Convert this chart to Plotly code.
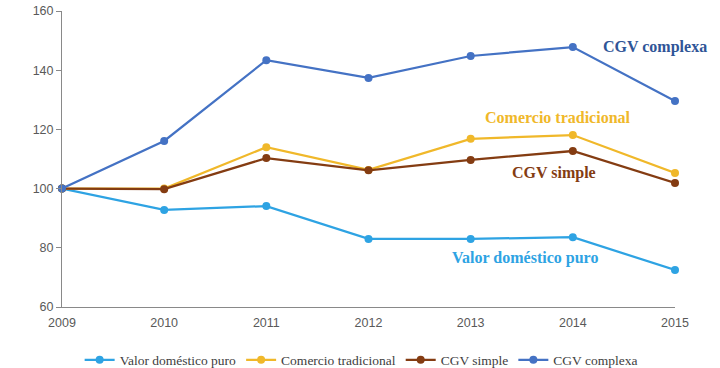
import plotly.graph_objects as go

years = [2009, 2010, 2011, 2012, 2013, 2014, 2015]
valor_domestico = [100, 92.8, 94.1, 83.0, 83.0, 83.6, 72.5]
comercio_trad = [100, 100.0, 114.0, 106.3, 116.8, 118.1, 105.3]
cgv_simple = [100, 99.8, 110.3, 106.2, 109.7, 112.7, 101.9]
cgv_complexa = [100, 116.1, 143.4, 137.4, 144.8, 147.8, 129.6]

series = [
    ("Valor doméstico puro", valor_domestico, "#2EA3E3"),
    ("Comercio tradicional", comercio_trad, "#F0B82A"),
    ("CGV simple", cgv_simple, "#843C12"),
    ("CGV complexa", cgv_complexa, "#4472C4"),
]

fig = go.Figure()
for name, vals, col in series:
    fig.add_trace(go.Scatter(
        x=years, y=vals, name=name, mode="lines+markers",
        line=dict(color=col, width=2.25),
        marker=dict(color=col, size=8),
        cliponaxis=False,
    ))

labels = [
    ("CGV complexa", 2014.8, 147.8, "#2F5597"),
    ("Comercio tradicional", 2013.85, 123.9, "#F0B82A"),
    ("CGV simple", 2013.82, 105.3, "#843C12"),
    ("Valor doméstico puro", 2013.53, 76.6, "#2EA3E3"),
]
for txt, x, y, col in labels:
    fig.add_annotation(x=x, y=y, text="<b>" + txt + "</b>", showarrow=False,
                       font=dict(family="Liberation Serif", size=16, color=col))

fig.update_layout(
    width=720, height=368,
    margin=dict(l=62, r=45, t=11, b=61, autoexpand=False),
    plot_bgcolor="white", paper_bgcolor="white",
    showlegend=True,
    legend=dict(orientation="h", x=0.488, xanchor="center", y=-0.179, yanchor="middle",
                font=dict(family="Liberation Serif", size=13.5, color="#404040"),
                itemwidth=30, tracegroupgap=0),
    font=dict(family="Liberation Sans", size=12.5, color="#595959"),
)
fig.update_xaxes(range=[2009, 2015], tickvals=years, ticktext=[str(y) for y in years],
                 showgrid=False, showline=True, linecolor="#898989", linewidth=1,
                 ticks="", zeroline=False, ticklabelstandoff=4,
                 tickfont=dict(family="Liberation Sans", size=12.5, color="#595959"))
fig.update_yaxes(range=[60, 160], tickvals=[60, 80, 100, 120, 140, 160],
                 showgrid=False, showline=True, linecolor="#898989", linewidth=1,
                 ticks="outside", ticklen=5, tickcolor="#898989", zeroline=False,
                 tickfont=dict(family="Liberation Sans", size=12.5, color="#595959"))

fig.write_html("out.html", config={"displayModeBar": False},
               post_script="document.body.style.margin='0';document.body.style.overflow='hidden';")
